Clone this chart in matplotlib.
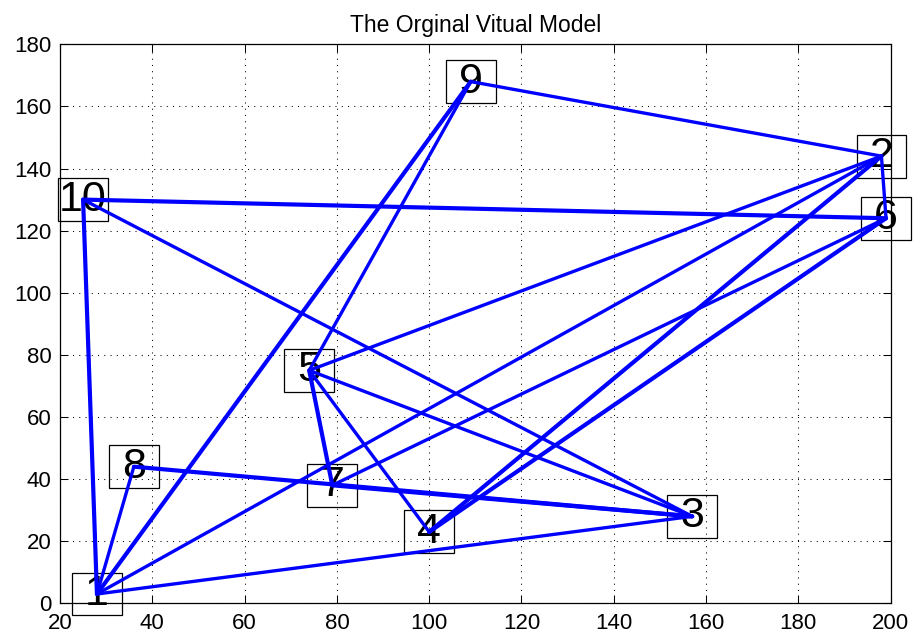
#!/usr/bin/env python3
"""
Recreate "The Orginal Vitual Model" node/edge plot (MATLAB gplot style).

Output:
    out.png
"""

import matplotlib
matplotlib.use("Agg")
import matplotlib.pyplot as plt
from matplotlib.patches import Rectangle

# node labels and positions
NODE_IDS = [1, 2, 3, 4, 5, 6, 7, 8, 9, 10]
NODE_X = [28, 198, 157, 100, 74, 199, 79, 36, 109, 25]
NODE_Y = [3, 144, 28, 23, 75, 124, 38, 44, 168, 130]

# undirected links between nodes
EDGE_FROM = [1, 1, 1, 1, 1, 5, 5, 5, 5, 5, 10, 10, 9, 2, 2, 6, 6, 8, 7]
EDGE_TO = [10, 8, 9, 2, 3, 9, 2, 3, 7, 4, 6, 3, 2, 6, 4, 7, 4, 3, 3]

X_TICKS = [20, 40, 60, 80, 100, 120, 140, 160, 180, 200]
Y_TICKS = [0, 20, 40, 60, 80, 100, 120, 140, 160, 180]

TITLE = "The Orginal Vitual Model"

# styling
BLUE = "#0000FF"
THICK_EDGES = {(1, 10), (10, 6), (8, 3), (7, 3), (2, 4), (6, 4), (1, 9), (5, 7)}
BOX_W, BOX_H = 10.8, 13.8  # label box size in data units
FONT = ["Liberation Sans", "DejaVu Sans"]


def main():
    plt.rcParams["font.family"] = FONT
    fig = plt.figure(figsize=(9.15, 6.36), dpi=100)
    ax = fig.add_axes([0.0656, 0.0514, 0.9078, 0.8789])

    pos = {n: (x, y) for n, x, y in zip(NODE_IDS, NODE_X, NODE_Y)}

    # label boxes sit under the lines
    for n in NODE_IDS:
        x, y = pos[n]
        ax.add_patch(Rectangle((x - BOX_W / 2, y - BOX_H / 2), BOX_W, BOX_H,
                               fill=False, edgecolor="black", linewidth=0.9,
                               clip_on=False, zorder=2))
        ax.text(x, y, str(n), fontsize=31, ha="center", va="center",
                color="black", clip_on=False, zorder=2)

    for a, b in zip(EDGE_FROM, EDGE_TO):
        lw = 3.0 if (a, b) in THICK_EDGES else 2.4
        ax.plot([pos[a][0], pos[b][0]], [pos[a][1], pos[b][1]],
                color=BLUE, linewidth=lw, solid_capstyle="round", zorder=3)

    ax.set_xlim(20, 200)
    ax.set_ylim(0, 180)
    ax.set_xticks(X_TICKS)
    ax.set_yticks(Y_TICKS)
    ax.grid(True, color="black", linestyle=(0, (1, 5)), linewidth=0.75)
    ax.set_axisbelow(True)
    ax.tick_params(direction="in", length=6, width=0.75, top=True, right=True,
                   labelsize=16)
    ax.tick_params(axis="x", pad=7)
    ax.tick_params(axis="y", pad=6)
    for spine in ax.spines.values():
        spine.set_linewidth(0.9)

    ax.set_title(TITLE, fontsize=16.5, pad=9)

    fig.savefig("out.png", dpi=100)
    plt.close(fig)


if __name__ == "__main__":
    main()
